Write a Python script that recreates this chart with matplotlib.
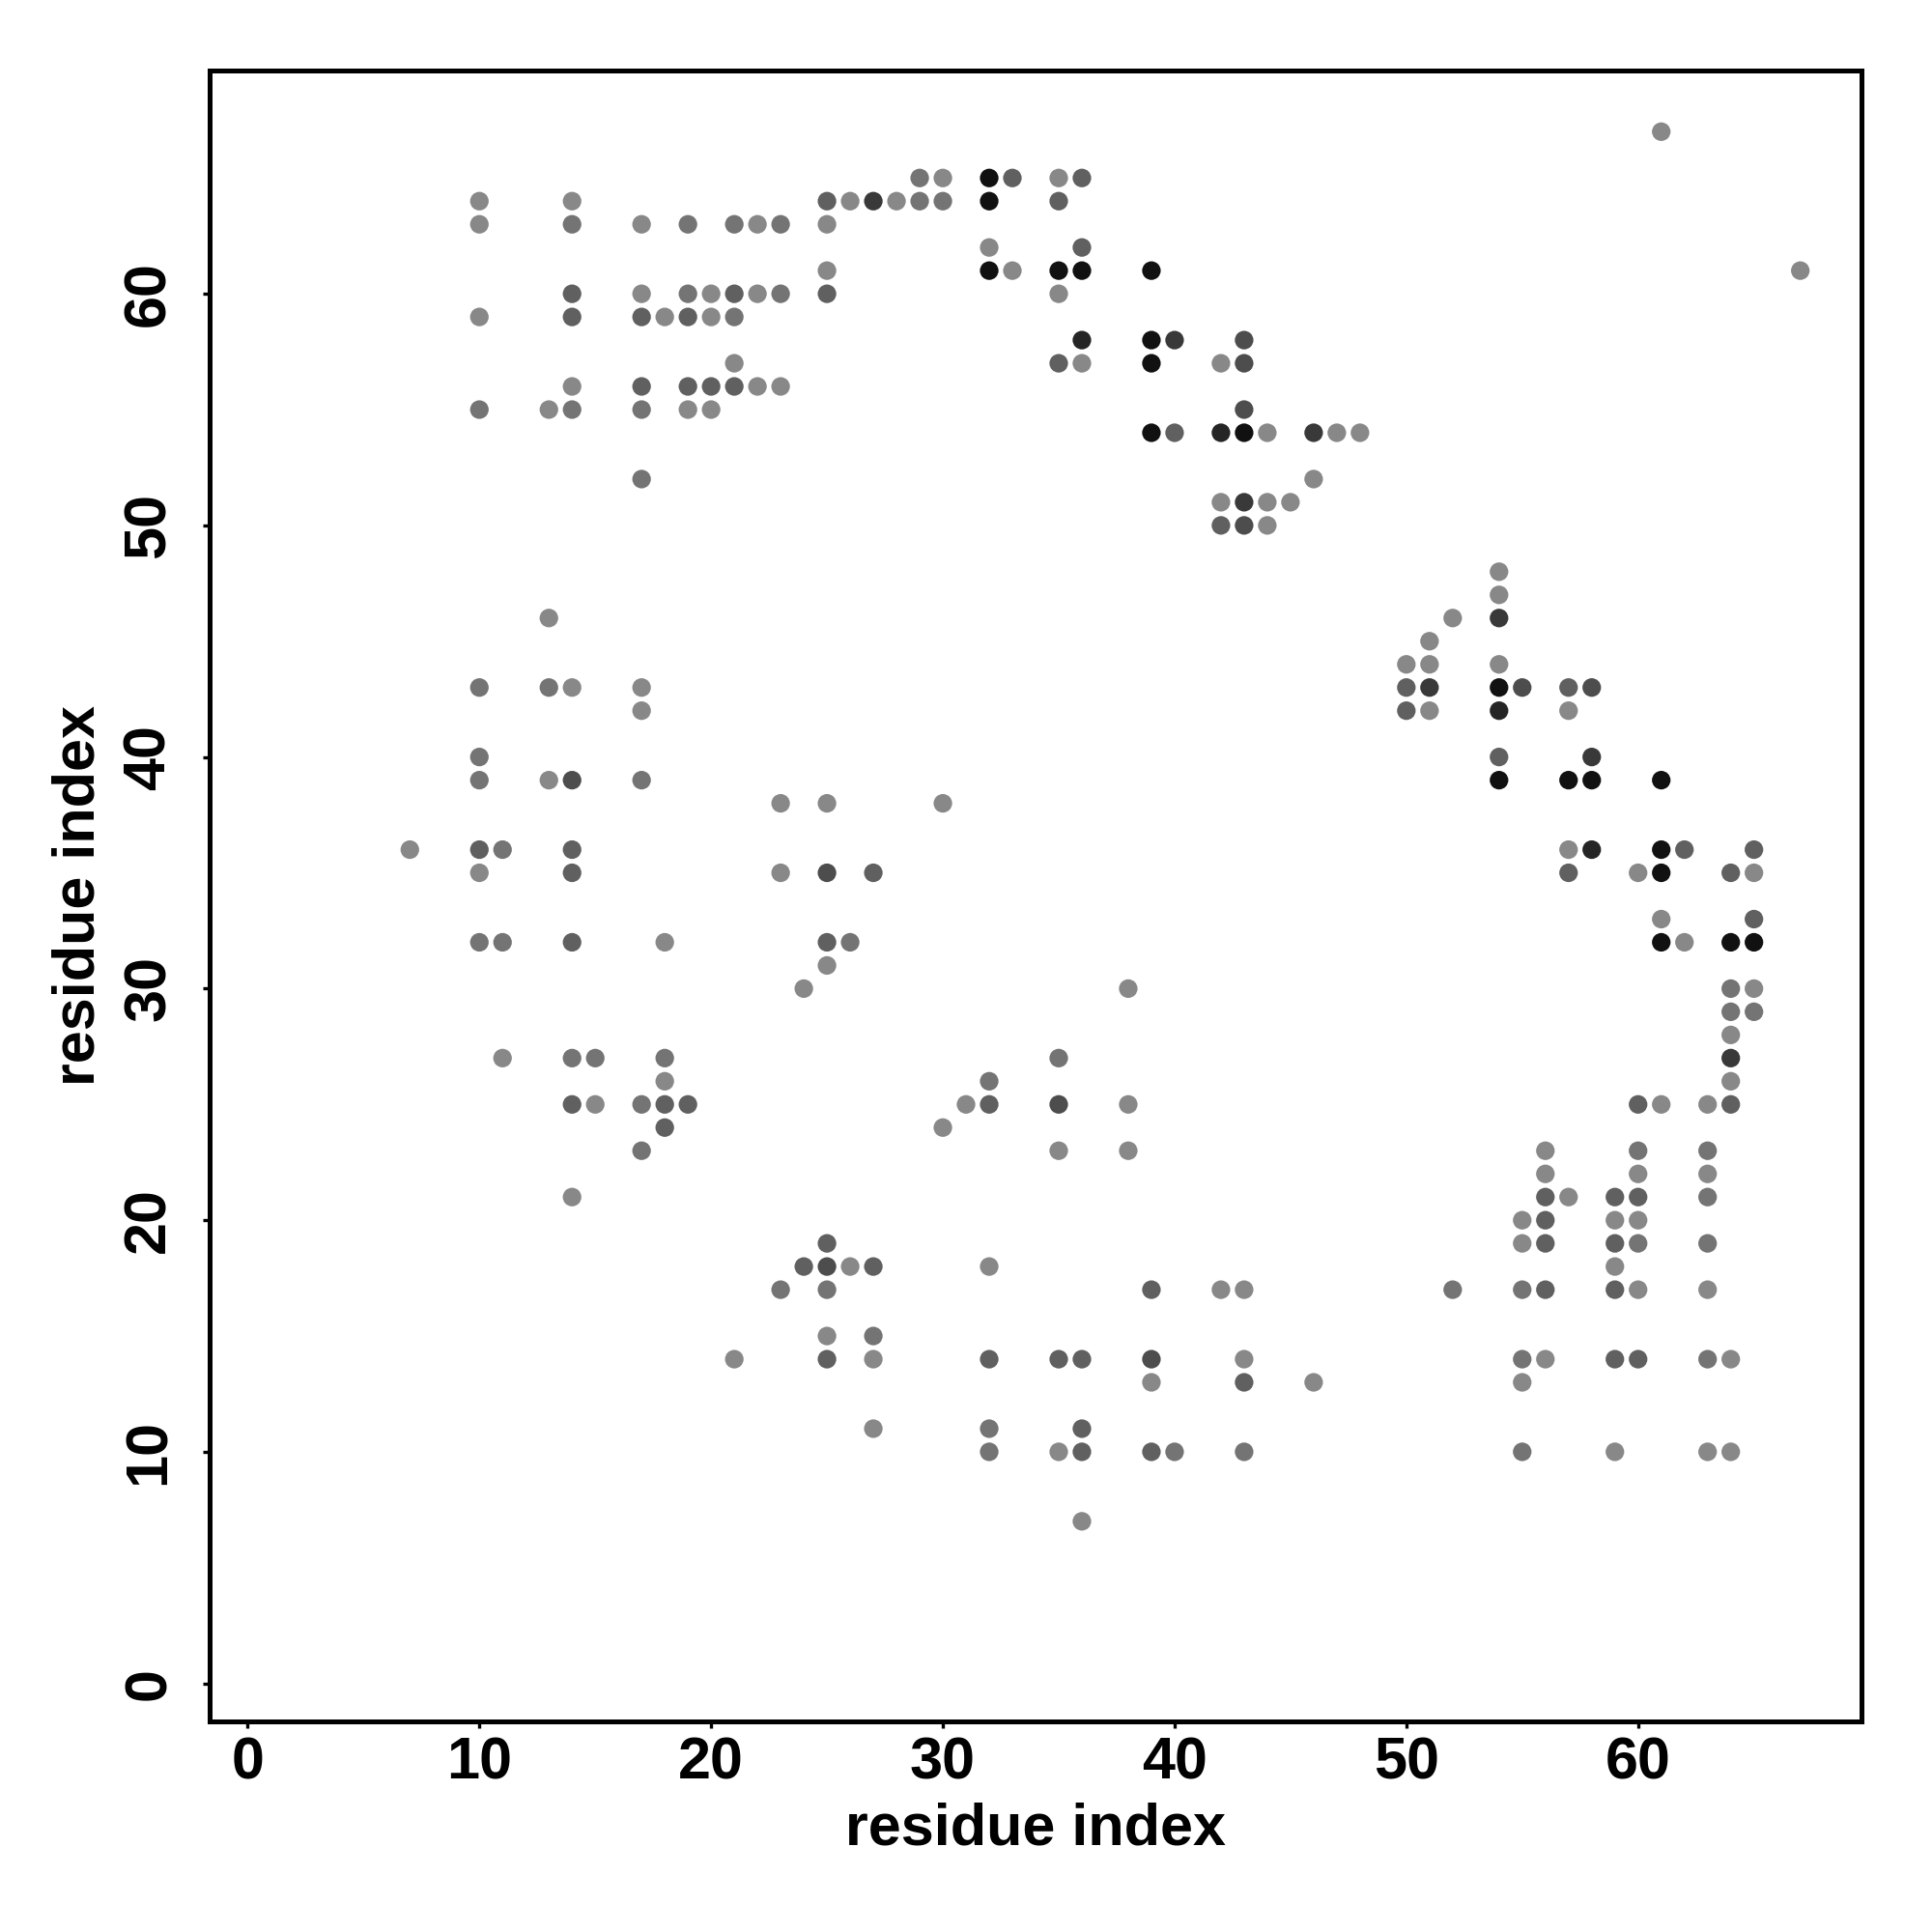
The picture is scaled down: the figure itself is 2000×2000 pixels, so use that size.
import numpy as np
import matplotlib
matplotlib.use("Agg")
from matplotlib import pyplot as plt

# контактная карта: residue i, residue j, вероятность контакта (оттенок серого)
res_i = (
    [7]
    + [10] * 10
    + [11] * 3
    + [13] * 4
    + [14] * 14
    + [15] * 2
    + [17] * 11
    + [18] * 6
    + [19] * 6
    + [20] * 4
    + [21] * 6
    + [22] * 3
    + [23] * 6
    + [24] * 2
    + [25] * 13
    + [26] * 3
    + [27] * 6
    + [28]
    + [29] * 2
    + [30] * 4
    + [31]
    + [32] * 10
    + [33] * 2
    + [35] * 10
    + [36] * 9
    + [38] * 3
    + [39] * 8
    + [40] * 3
    + [42] * 5
    + [43] * 10
    + [44] * 3
    + [45]
    + [46] * 3
    + [47]
    + [48]
    + [50] * 3
    + [51] * 4
    + [52] * 2
    + [54] * 8
    + [55] * 7
    + [56] * 7
    + [57] * 6
    + [58] * 4
    + [59] * 7
    + [60] * 9
    + [61] * 7
    + [62] * 2
    + [63] * 8
    + [64] * 10
    + [65] * 6
    + [67]
)

res_j = [
    36,
    64, 63, 59, 55, 43, 40, 39, 36, 35, 32,
    36, 32, 27,
    55, 46, 43, 39,
    64, 63, 60, 59, 56, 55, 43, 39, 36, 35, 32, 27, 25, 21,
    27, 25,
    63, 60, 59, 56, 55, 52, 43, 42, 39, 25, 23,
    59, 32, 27, 26, 25, 24,
    63, 60, 59, 56, 55, 25,
    60, 59, 56, 55,
    63, 60, 59, 57, 56, 14,
    63, 60, 56,
    63, 60, 56, 38, 35, 17,
    30, 18,
    64, 63, 61, 60, 38, 35, 32, 31, 19, 18, 17, 15, 14,
    64, 32, 18,
    64, 35, 18, 15, 14, 11,
    64,
    65, 64,
    65, 64, 38, 24,
    25,
    65, 64, 62, 61, 26, 25, 18, 14, 11, 10,
    65, 61,
    65, 64, 61, 60, 57, 27, 25, 23, 14, 10,
    65, 62, 61, 58, 57, 14, 11, 10, 7,
    30, 25, 23,
    61, 58, 57, 54, 17, 14, 13, 10,
    58, 54, 10,
    57, 54, 51, 50, 17,
    58, 57, 55, 54, 51, 50, 17, 14, 13, 10,
    54, 51, 50,
    51,
    54, 52, 13,
    54,
    54,
    44, 43, 42,
    45, 44, 43, 42,
    46, 17,
    48, 47, 46, 44, 43, 42, 40, 39,
    43, 20, 19, 17, 14, 13, 10,
    23, 22, 21, 20, 19, 17, 14,
    43, 42, 39, 36, 35, 21,
    43, 40, 39, 36,
    21, 20, 19, 18, 17, 14, 10,
    35, 25, 23, 22, 21, 20, 19, 17, 14,
    67, 39, 36, 35, 33, 32, 25,
    36, 32,
    25, 23, 22, 21, 19, 17, 14, 10,
    35, 32, 30, 29, 28, 27, 26, 25, 14, 10,
    36, 35, 33, 32, 30, 29,
    61,
]

prob = [
    0.05,
    0.05, 0.05, 0.05, 0.2, 0.2, 0.2, 0.2, 0.35, 0.05, 0.2,
    0.2, 0.2, 0.05,
    0.05, 0.05, 0.2, 0.05,
    0.05, 0.2, 0.35, 0.35, 0.05, 0.2, 0.05, 0.5, 0.35, 0.35, 0.35, 0.2, 0.35, 0.05,
    0.2, 0.05,
    0.05, 0.05, 0.35, 0.35, 0.2, 0.2, 0.05, 0.05, 0.2, 0.2, 0.2,
    0.05, 0.05, 0.2, 0.05, 0.35, 0.35,
    0.2, 0.2, 0.35, 0.35, 0.05, 0.35,
    0.05, 0.05, 0.35, 0.05,
    0.2, 0.35, 0.2, 0.05, 0.35, 0.05,
    0.05, 0.05, 0.05,
    0.2, 0.2, 0.05, 0.05, 0.05, 0.2,
    0.05, 0.35,
    0.35, 0.05, 0.05, 0.35, 0.05, 0.5, 0.35, 0.05, 0.35, 0.5, 0.2, 0.05, 0.35,
    0.05, 0.2, 0.05,
    0.65, 0.35, 0.35, 0.2, 0.05, 0.05,
    0.05,
    0.2, 0.2,
    0.05, 0.2, 0.05, 0.05,
    0.05,
    0.95, 0.95, 0.05, 0.95, 0.2, 0.35, 0.05, 0.35, 0.2, 0.2,
    0.35, 0.05,
    0.05, 0.35, 0.95, 0.05, 0.35, 0.2, 0.5, 0.05, 0.35, 0.05,
    0.35, 0.35, 0.95, 0.8, 0.05, 0.35, 0.35, 0.35, 0.05,
    0.05, 0.05, 0.05,
    0.95, 0.95, 0.95, 0.95, 0.35, 0.5, 0.05, 0.35,
    0.65, 0.35, 0.2,
    0.05, 0.8, 0.05, 0.35, 0.05,
    0.5, 0.5, 0.5, 0.95, 0.65, 0.5, 0.05, 0.05, 0.35, 0.2,
    0.05, 0.05, 0.05,
    0.05,
    0.65, 0.05, 0.05,
    0.05,
    0.05,
    0.05, 0.35, 0.35,
    0.05, 0.05, 0.65, 0.05,
    0.05, 0.2,
    0.05, 0.05, 0.65, 0.05, 0.95, 0.8, 0.35, 0.95,
    0.5, 0.05, 0.05, 0.2, 0.2, 0.05, 0.2,
    0.05, 0.05, 0.35, 0.35, 0.35, 0.35, 0.05,
    0.35, 0.05, 0.95, 0.05, 0.35, 0.05,
    0.5, 0.65, 0.95, 0.8,
    0.35, 0.05, 0.35, 0.05, 0.35, 0.35, 0.05,
    0.05, 0.35, 0.2, 0.05, 0.35, 0.05, 0.2, 0.05, 0.35,
    0.05, 0.95, 0.95, 0.95, 0.05, 0.95, 0.05,
    0.35, 0.05,
    0.05, 0.2, 0.05, 0.2, 0.2, 0.05, 0.2, 0.05,
    0.35, 0.95, 0.2, 0.2, 0.05, 0.65, 0.05, 0.35, 0.05, 0.05,
    0.35, 0.05, 0.35, 0.95, 0.05, 0.2,
    0.05,
]

ticks = [0, 10, 20, 30, 40, 50, 60]

plt.rcParams['font.family'] = ['Liberation Sans', 'DejaVu Sans']

fig = plt.figure(figsize=(10, 10), dpi=200)
ax = fig.add_axes([0.1085, 0.109, 0.855, 0.8545])

# светлее - меньше вероятность
gray = 0.56 - 0.52 * np.array(prob)
colors = [str(g) for g in gray]
ax.scatter(res_i, res_j, c=colors, s=48, linewidths=0, zorder=2)

ax.set_xlim(1 - 0.04 * 66, 67 + 0.04 * 66)
ax.set_ylim(1 - 0.04 * 66, 67 + 0.04 * 66)
ax.set_xticks(ticks)
ax.set_yticks(ticks)
ax.set_yticklabels([str(t) for t in ticks], rotation=90, va='center')

for sp in ax.spines.values():
    sp.set_linewidth(1.8)
ax.tick_params(axis='x', length=2.5, width=1.2, labelsize=22, pad=3)
ax.tick_params(axis='y', length=2.5, width=1.2, labelsize=22, pad=9.5)
for lab in ax.get_xticklabels() + ax.get_yticklabels():
    lab.set_fontweight('bold')

ax.set_xlabel('residue index', fontsize=22, fontweight='bold', labelpad=4)
ax.set_ylabel('residue index', fontsize=22, fontweight='bold', labelpad=6)

fig.savefig('out.png', dpi=200)
